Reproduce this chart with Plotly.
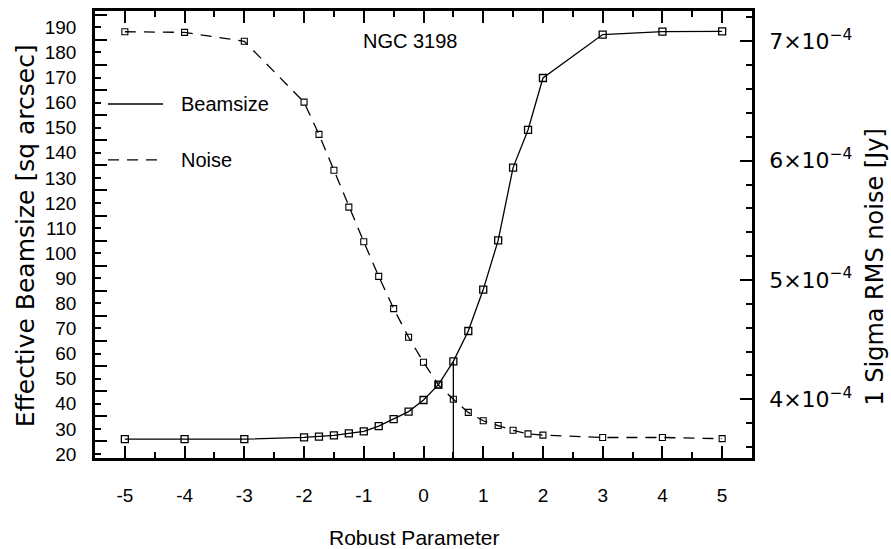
import numpy as np
import plotly.graph_objects as go

# Robust weighting parameter sampled for the imaging runs
robust = [-5, -4, -3, -2, -1.75, -1.5, -1.25, -1, -0.75, -0.5, -0.25, 0,
          0.25, 0.5, 0.75, 1, 1.25, 1.5, 1.75, 2, 3, 4, 5]

# Effective beam area [sq arcsec]
beamsize = [25.9, 25.9, 25.9, 26.6, 26.9, 27.4, 28.2, 29.0, 31.1, 33.9, 36.9, 41.5,
            47.6, 56.9, 69.0, 85.5, 105.1, 134.1, 149.1, 169.8, 187.1, 188.3, 188.4]

# 1 sigma RMS noise [Jy]
noise = [7.08e-4, 7.075e-4, 7.0e-4, 6.49e-4, 6.22e-4, 5.92e-4, 5.61e-4, 5.32e-4,
         5.03e-4, 4.76e-4, 4.52e-4, 4.31e-4, 4.12e-4, 4.0e-4, 3.89e-4, 3.82e-4,
         3.78e-4, 3.74e-4, 3.71e-4, 3.70e-4, 3.68e-4, 3.68e-4, 3.67e-4]

# Robust value adopted for the final cube
chosen_robust = 0.5

x_ticks = [-5, -4, -3, -2, -1, 0, 1, 2, 3, 4, 5]
beam_ticks = list(range(20, 200, 10))
noise_ticks = [4e-4, 5e-4, 6e-4, 7e-4]
noise_ticktext = ["4×10<sup>−4</sup>", "5×10<sup>−4</sup>",
                  "6×10<sup>−4</sup>", "7×10<sup>−4</sup>"]

X_RANGE = [-5.5, 5.5]
BEAM_RANGE = [18.4, 196.5]
NOISE_RANGE = [3.508e-4, 7.254e-4]

SANS = "Liberation Sans, Arial, Helvetica, sans-serif"
WIDE = "DejaVu Sans ExtraLight, DejaVu Sans, Verdana, sans-serif"

fig = go.Figure()

fig.add_trace(go.Scatter(
    x=robust, y=beamsize, mode="lines+markers", name="Beamsize",
    line=dict(color="black", width=1.3),
    marker=dict(symbol="square-open", size=7, color="black", line=dict(width=1.3)),
    yaxis="y",
))

fig.add_trace(go.Scatter(
    x=robust, y=noise, mode="lines+markers", name="Noise",
    line=dict(color="black", width=1.3, dash="11px,8px"),
    marker=dict(symbol="square-open", size=6, color="black", line=dict(width=1.1)),
    yaxis="y2",
))

# Drop line marking the adopted robust value
i_sel = robust.index(chosen_robust)
fig.add_trace(go.Scatter(
    x=[chosen_robust, chosen_robust], y=[beamsize[i_sel], BEAM_RANGE[0]],
    mode="lines", line=dict(color="black", width=1.3), yaxis="y",
    hoverinfo="skip",
))

axis_common = dict(
    showgrid=False, zeroline=False, showline=True, linecolor="black",
    linewidth=2.6, ticks="inside", tickcolor="black", tickwidth=1.5,
)

fig.update_layout(
    width=891, height=549,
    margin=dict(l=95, r=139, t=8, b=91, pad=0),
    paper_bgcolor="white", plot_bgcolor="white",
    showlegend=False,
    xaxis=dict(
        **axis_common, range=X_RANGE, mirror="ticks",
        tickmode="array", tickvals=x_ticks, ticktext=[str(v) for v in x_ticks],
        ticklen=12, ticklabelstandoff=18,
        minor=dict(tickmode="array",
                   tickvals=list(np.arange(-5.5, 5.51, 1.0)),
                   ticks="inside", ticklen=6, tickwidth=1.5, tickcolor="black"),
        tickfont=dict(family=SANS, size=19, color="black"),
    ),
    yaxis=dict(
        **axis_common, range=BEAM_RANGE,
        tickmode="array", tickvals=beam_ticks, ticktext=[str(v) for v in beam_ticks],
        ticklen=6, ticklabelstandoff=12,
        minor=dict(tickmode="array",
                   tickvals=[v + 5 for v in beam_ticks],
                   ticks="inside", ticklen=12, tickwidth=1.5, tickcolor="black"),
        tickfont=dict(family=SANS, size=19, color="black"),
    ),
    yaxis2=dict(
        **axis_common, range=NOISE_RANGE, overlaying="y", side="right",
        tickmode="array", tickvals=noise_ticks, ticktext=noise_ticktext,
        ticklen=12, ticklabelstandoff=10,
        minor=dict(tickmode="array",
                   tickvals=[round(v, 6) for v in np.arange(3.6e-4, 7.25e-4, 0.2e-4)],
                   ticks="inside", ticklen=6, tickwidth=1.5, tickcolor="black"),
        tickfont=dict(family=WIDE, size=22, color="black"),
    ),
)

# Legend drawn as line samples with labels
legend_rows = [("Beamsize", "solid", 0.792), ("Noise", "11px,8px", 0.667)]
for label, dash, yp in legend_rows:
    fig.add_shape(type="line", xref="paper", yref="paper",
                  x0=0.0198, x1=0.1035, y0=yp, y1=yp,
                  line=dict(color="black", width=1.3, dash=dash))
    fig.add_annotation(text=label, xref="paper", yref="paper", x=0.1279, y=yp,
                       xanchor="left", yanchor="middle", showarrow=False,
                       font=dict(family=SANS, size=20, color="black"))

fig.add_annotation(text="NGC 3198", xref="paper", yref="paper", x=0.4795, y=0.932,
                   xanchor="center", yanchor="middle", showarrow=False,
                   font=dict(family=SANS, size=20, color="black"))

fig.add_annotation(text="Robust Parameter", xref="paper", yref="paper",
                   x=0.4855, y=-0.178, xanchor="center", yanchor="middle",
                   showarrow=False, font=dict(family=SANS, size=21, color="black"))

fig.add_annotation(text="Effective Beamsize [sq arcsec]", xref="paper", yref="paper",
                   x=-0.106, y=0.497, xanchor="center", yanchor="middle",
                   textangle=-90, showarrow=False,
                   font=dict(family=WIDE, size=25, color="black"))

fig.add_annotation(text="1 Sigma RMS noise [Jy]", xref="paper", yref="paper",
                   x=1.188, y=0.427, xanchor="center", yanchor="middle",
                   textangle=-90, showarrow=False,
                   font=dict(family=WIDE, size=24, color="black"))

fig.write_html("out.html")
